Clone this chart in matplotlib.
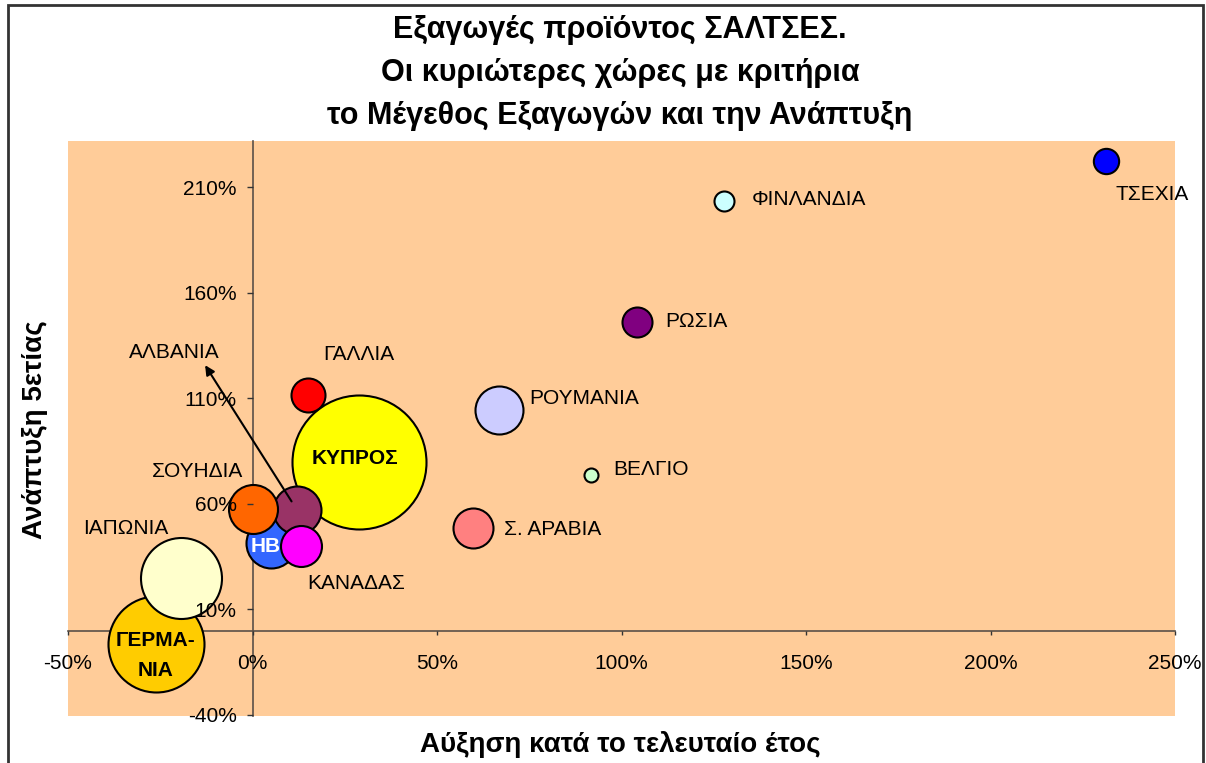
import matplotlib.pyplot as plt
from matplotlib.patches import Rectangle
from matplotlib.ticker import FuncFormatter

plt.rcParams['font.family'] = ['Liberation Sans', 'DejaVu Sans']

# countries in drawing order (later ones sit on top)
countries = ['ΚΥΠΡΟΣ', 'ΓΕΡΜΑΝΙΑ', 'ΙΑΠΩΝΙΑ', 'ΗΒ', 'ΑΛΒΑΝΙΑ', 'ΣΟΥΗΔΙΑ', 'ΚΑΝΑΔΑΣ',
             'ΡΟΥΜΑΝΙΑ', 'Σ. ΑΡΑΒΙΑ', 'ΓΑΛΛΙΑ', 'ΡΩΣΙΑ', 'ΤΣΕΧΙΑ', 'ΦΙΝΛΑΝΔΙΑ', 'ΒΕΛΓΙΟ']
# growth in last year (%)
growth_year = [28.8, -26.2, -19.4, 5.0, 12.0, 0.1, 13.1,
               66.8, 59.8, 15.0, 104.2, 231.2, 127.8, 91.8]
# growth over 5 years (%)
growth_5y = [80.1, -6.6, 24.7, 41.7, 57.3, 57.8, 40.3,
             104.7, 48.4, 111.8, 146.4, 222.6, 203.7, 73.9]
# export size (relative units, bubble area)
export_size = [4489, 2304, 1640, 625, 576, 600, 420,
               576, 400, 289, 225, 160, 100, 49]
colors = ['#FFFF00', '#FFCC00', '#FFFFCC', '#3366FF', '#993366', '#FF6600', '#FF00FF',
          '#CCCCFF', '#FF8080', '#FF0000', '#800080', '#0000FF', '#CCFFFF', '#CCFFCC']

# label offsets in points from the bubble centre, alignment, style
label_opts = {
    'ΚΥΠΡΟΣ': ((-3, 2), 'center', True, 'black'),
    'ΓΕΡΜΑΝΙΑ': ((0, -8), 'center', True, 'black'),
    'ΙΑΠΩΝΙΑ': ((-40, 36), 'center', False, 'black'),
    'ΗΒ': ((-4, -3), 'center', True, 'white'),
    'ΑΛΒΑΝΙΑ': ((-88, 113), 'center', False, 'black'),
    'ΣΟΥΗΔΙΑ': ((-40, 27), 'center', False, 'black'),
    'ΚΑΝΑΔΑΣ': ((40, -27), 'center', False, 'black'),
    'ΡΟΥΜΑΝΙΑ': ((22, 8), 'left', False, 'black'),
    'Σ. ΑΡΑΒΙΑ': ((22, -1), 'left', False, 'black'),
    'ΓΑΛΛΙΑ': ((11, 29), 'left', False, 'black'),
    'ΡΩΣΙΑ': ((20, 0), 'left', False, 'black'),
    'ΤΣΕΧΙΑ': ((7, -24), 'left', False, 'black'),
    'ΦΙΝΛΑΝΔΙΑ': ((20, 1), 'left', False, 'black'),
    'ΒΕΛΓΙΟ': ((16, 4), 'left', False, 'black'),
}

fig = plt.figure(figsize=(12.06, 7.63), dpi=100)
ax = fig.add_axes([68 / 1206, 47 / 763, 1107 / 1206, 575 / 763])
ax.set_facecolor('#FFCC99')
ax.set_axisbelow(False)

for i, name in enumerate(countries):
    ax.scatter(growth_year[i], growth_5y[i], s=export_size[i] * 1.44 ** 2,
               color=colors[i], edgecolor='black', linewidth=1.5, zorder=2 + i * 0.01)
    off, ha, bold, tc = label_opts[name]
    text = 'ΓΕΡΜΑ-\nΝΙΑ' if name == 'ΓΕΡΜΑΝΙΑ' else name
    ax.annotate(text, (growth_year[i], growth_5y[i]), xytext=off, textcoords='offset points',
                ha=ha, va='center', fontsize=15,
                fontweight='bold' if bold else 'normal', color=tc,
                linespacing=1.7, zorder=5)

# arrow from the ΑΛΒΑΝΙΑ bubble to its label
ia = countries.index('ΑΛΒΑΝΙΑ')
ax.annotate('', xy=(growth_year[ia], growth_5y[ia]), xytext=(-66, 104), textcoords='offset points',
            arrowprops=dict(arrowstyle='<|-', color='black', lw=1.5, shrinkA=0, shrinkB=7,
                            mutation_scale=14), zorder=5)

ax.set_xlim(-50, 250)
ax.set_ylim(-40.5, 232)
ax.set_xticks(range(-50, 251, 50))
ax.set_yticks(range(-40, 211, 50))
pct = FuncFormatter(lambda v, p: f'{v:.0f}%')
ax.xaxis.set_major_formatter(pct)
ax.yaxis.set_major_formatter(pct)

for s in ['top', 'right']:
    ax.spines[s].set_visible(False)
ax.spines['left'].set_position(('data', 0))
ax.spines['bottom'].set_position(('data', 0))
for s in ['left', 'bottom']:
    ax.spines[s].set_color('#5a5048')
    ax.spines[s].set_linewidth(1.2)
    ax.spines[s].set_zorder(1)
ax.tick_params(axis='x', direction='out', length=3, width=1, color='#333333', labelsize=15, pad=14)
ax.tick_params(axis='y', direction='out', length=4.5, width=1, color='#333333', labelsize=15, pad=7)

fig.text(0.514, 1 - 73 / 763, 'Εξαγωγές προϊόντος ΣΑΛΤΣΕΣ.\nΟι κυριώτερες χώρες με κριτήρια\nτο Μέγεθος Εξαγωγών και την Ανάπτυξη',
         ha='center', va='center', fontsize=22, fontweight='bold', linespacing=1.55)
fig.text(0.514, 1 - 745 / 763, 'Αύξηση κατά το τελευταίο έτος', ha='center', va='center',
         fontsize=20, fontweight='bold')
fig.text(35 / 1206, 1 - 430 / 763, 'Ανάπτυξη 5ετίας', ha='center', va='center', rotation=90,
         fontsize=20, fontweight='bold')

fig.add_artist(Rectangle((8 / 1206, -0.02), 1195 / 1206, 1 - 5 / 763 + 0.02, transform=fig.transFigure,
                         fill=False, edgecolor='#333333', linewidth=2))

plt.savefig('out.png', dpi=100)
